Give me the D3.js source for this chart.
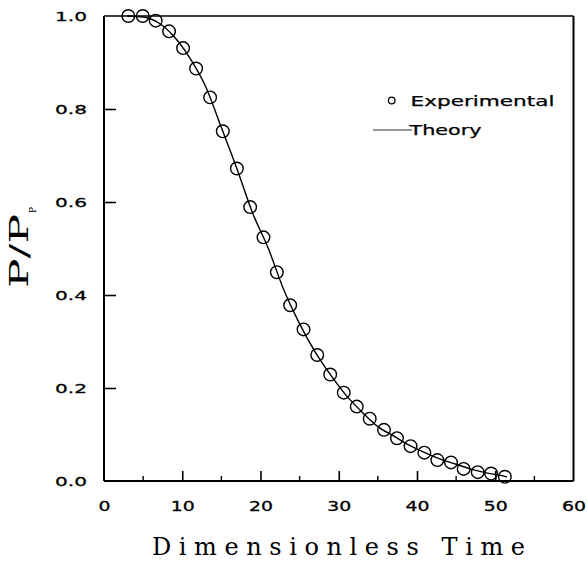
<!DOCTYPE html>
<html><head><meta charset="utf-8">
<script src="https://cdn.jsdelivr.net/npm/d3@7/dist/d3.min.js"></script>
<style>body{margin:0;background:#fff}svg{display:block}</style>
</head><body>
<svg id="c" width="587" height="561"></svg>
<script>
// ---- data ----
const expTime  = [3.11,4.95,6.61,8.32,10.11,11.77,13.56,15.18,16.98,18.68,20.38,22.09,23.79,25.50,27.25,28.91,30.64,32.30,33.96,35.78,37.44,39.18,40.94,42.60,44.35,45.96,47.76,49.47,51.23];
const expRatio = [1.000,1.000,0.990,0.967,0.931,0.887,0.825,0.752,0.672,0.589,0.524,0.449,0.378,0.326,0.271,0.229,0.190,0.160,0.134,0.110,0.092,0.075,0.061,0.045,0.040,0.026,0.019,0.016,0.009];
const theoryTime  = [3,5,7,9,11,13,15,17,19,21,23,25,27,29,31,33,35,37,39,41,43,45,47,49,51,51.5];
const theoryRatio = [1.000,0.998,0.985,0.955,0.909,0.848,0.760,0.671,0.576,0.500,0.410,0.338,0.277,0.227,0.183,0.148,0.117,0.097,0.077,0.061,0.047,0.036,0.025,0.017,0.011,0.009];
const xTickValues = [0,10,20,30,40,50,60];
const xMinorTicks = [5,15,25,35,45,55];
const yTickValues = [0.0,0.2,0.4,0.6,0.8,1.0];
const yTickLabels = ["0.0","0.2","0.4","0.6","0.8","1.0"];
const legendLabels = ["Experimental","Theory"];
const xTitle = "Dimensionless Time";

// ---- layout ----
const L = 104, R = 573.5, T = 16, B = 481;
const svg = d3.select("#c");
const x = d3.scaleLinear().domain([0,60]).range([L,R]);
const y = d3.scaleLinear().domain([0,1]).range([B,T]);
const font = "'DejaVu Sans', sans-serif";

// x axis
const gx = svg.append("g").attr("transform",`translate(0,${B})`)
  .call(d3.axisBottom(x).tickValues(xTickValues).tickFormat(d3.format("d")).tickSize(-10).tickPadding(20));
gx.select(".domain").remove();
gx.selectAll(".tick line").attr("stroke","#000").attr("stroke-width",1.6);
gx.selectAll(".tick text").attr("font-family",font).attr("font-size",13.5).attr("fill","#000")
  .attr("stroke","#000").attr("stroke-width",0.3)
  .attr("textLength",d=>String(d).length*12).attr("lengthAdjust","spacingAndGlyphs");
gx.selectAll(".tick").filter(d=>d===0||d===60).select("line").remove();

svg.append("g").selectAll("line").data(xMinorTicks).join("line")
  .attr("x1",d=>x(d)).attr("x2",d=>x(d)).attr("y1",B).attr("y2",B-5)
  .attr("stroke","#000").attr("stroke-width",1.4);

// y axis
const gy = svg.append("g").attr("transform",`translate(${L},0)`)
  .call(d3.axisLeft(y).tickValues(yTickValues).tickFormat((d,i)=>yTickLabels[i]).tickSize(-12).tickPadding(17));
gy.select(".domain").remove();
gy.selectAll(".tick line").attr("stroke","#000").attr("stroke-width",1.6);
gy.selectAll(".tick").filter(d=>d===0||d===1).select("line").remove();
gy.selectAll(".tick text").attr("font-family",font).attr("font-size",13).attr("fill","#000")
  .attr("stroke","#000").attr("stroke-width",0.3)
  .attr("textLength",32).attr("lengthAdjust","spacingAndGlyphs");

// frame
svg.append("line").attr("x1",L).attr("x2",L).attr("y1",T).attr("y2",B).attr("stroke","#000").attr("stroke-width",2);
svg.append("line").attr("x1",L).attr("x2",R).attr("y1",B).attr("y2",B).attr("stroke","#000").attr("stroke-width",2);
svg.append("line").attr("x1",L).attr("x2",R).attr("y1",T).attr("y2",T).attr("stroke","#000").attr("stroke-width",1.4);
svg.append("line").attr("x1",R).attr("x2",R).attr("y1",T).attr("y2",B).attr("stroke","#000").attr("stroke-width",2);

// theory line
const theory = theoryTime.map((t,i)=>[t,theoryRatio[i]]);
svg.append("path").datum(theory)
  .attr("d",d3.line().x(d=>x(d[0])).y(d=>y(d[1])).curve(d3.curveMonotoneX))
  .attr("fill","none").attr("stroke","#000").attr("stroke-width",1.4);

// experimental points
svg.append("g").selectAll("circle").data(expTime.map((t,i)=>[t,expRatio[i]])).join("circle")
  .attr("cx",d=>x(d[0])).attr("cy",d=>y(d[1])).attr("r",6.3)
  .attr("fill","none").attr("stroke","#000").attr("stroke-width",1.4);

// legend
svg.append("circle").attr("cx",391.7).attr("cy",100.5).attr("r",3.3).attr("fill","none").attr("stroke","#000").attr("stroke-width",1.3);
svg.append("text").attr("x",410.5).attr("y",105.5).attr("font-family",font).attr("font-size",14)
  .attr("stroke","#000").attr("stroke-width",0.25)
  .attr("textLength",144).attr("lengthAdjust","spacingAndGlyphs").text(legendLabels[0]);
svg.append("line").attr("x1",373).attr("x2",412).attr("y1",130).attr("y2",130).attr("stroke","#333").attr("stroke-width",1);
svg.append("text").attr("x",409.5).attr("y",135).attr("font-family",font).attr("font-size",14)
  .attr("stroke","#000").attr("stroke-width",0.25)
  .attr("textLength",72).attr("lengthAdjust","spacingAndGlyphs").text(legendLabels[1]);

// axis titles
svg.append("text").attr("x",152).attr("y",555).attr("font-family","'DejaVu Serif', serif").attr("font-size",24)
  .attr("textLength",373).attr("lengthAdjust","spacing").text(xTitle);

const yt = svg.append("text").attr("transform","translate(28,288) rotate(-90)")
  .attr("font-family","'DejaVu Serif', serif").attr("font-size",26);
yt.append("tspan").attr("textLength",74).attr("lengthAdjust","spacingAndGlyphs").text("P/P");
yt.append("tspan").attr("font-size",9).attr("dx",1).attr("dy",8).text("P");
</script>
</body></html>
